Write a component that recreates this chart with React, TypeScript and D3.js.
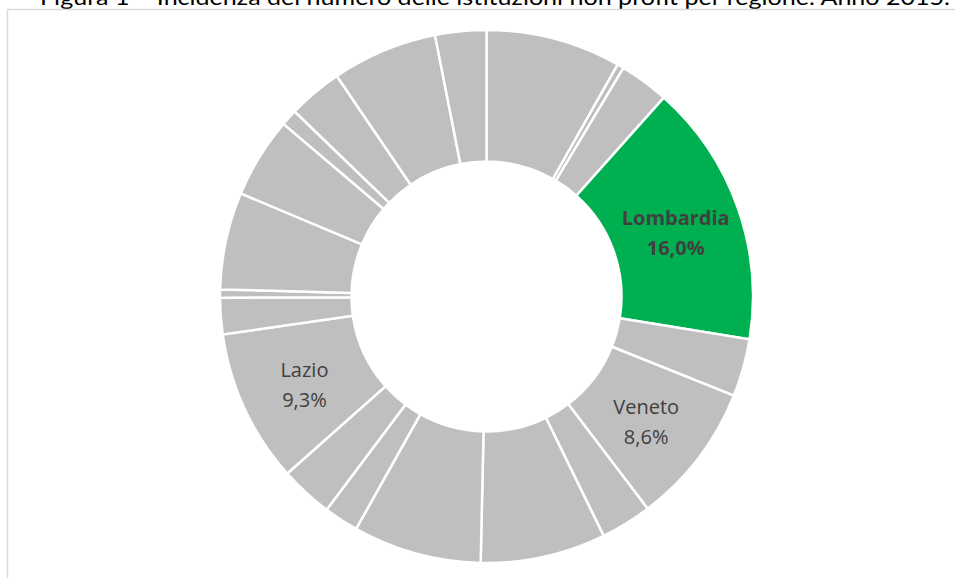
import React from "react";
import * as d3 from "d3";

const regions = [
  "Piemonte", "Valle d'Aosta", "Liguria", "Lombardia", "Trentino-Alto Adige",
  "Veneto", "Friuli-Venezia Giulia", "Emilia-Romagna", "Toscana", "Umbria",
  "Marche", "Lazio", "Abruzzo", "Molise", "Campania", "Puglia", "Basilicata",
  "Calabria", "Sicilia", "Sardegna",
];
const shares = [
  8.2, 0.4, 3.0, 16.0, 3.5, 8.6, 3.1, 7.6, 7.8, 2.1,
  3.2, 9.3, 2.2, 0.5, 5.9, 4.9, 1.0, 3.3, 6.4, 3.1,
];
const labelled = ["Lombardia", "Veneto", "Lazio"];
const highlighted = "Lombardia";
const titleText = "Figura 1 \u2013 Incidenza del numero delle istituzioni non profit per regione. Anno 2015.";

const W = 955;
const H = 578;

export default function App() {
  const cx = 486.5;
  const cy = 296.5;
  const outerR = 266.5;
  const innerR = 135;

  const data = regions.map((r, i) => ({ region: r, value: shares[i] }));
  const pie = d3.pie<{ region: string; value: number }>().value((d) => d.value).sort(null);
  const arcs = pie(data);
  const arc = d3.arc<d3.PieArcDatum<{ region: string; value: number }>>()
    .innerRadius(innerR)
    .outerRadius(outerR);
  const fmt = (v: number) => v.toFixed(1).replace(".", ",") + "%";

  return (
    <svg
      width={W}
      height={H}
      style={{ position: "absolute", left: 0, top: 0, background: "#ffffff" }}
    >
      <text
        x={40}
        y={5}
        fontFamily="Lato, 'Open Sans', sans-serif"
        fontSize={21}
        fill="#000"
        textLength={910}
        lengthAdjust="spacingAndGlyphs"
      >
        {titleText}
      </text>
      <rect x={7.5} y={9.5} width={1000} height={700} fill="none" stroke="#d9d9d9" strokeWidth={1.5} />
      <g transform={`translate(${cx},${cy})`}>
        {arcs.map((a) => (
          <path
            key={a.data.region}
            d={arc(a) || ""}
            fill={a.data.region === highlighted ? "#00b050" : "#bfbfbf"}
            stroke="#ffffff"
            strokeWidth={2.5}
            strokeLinejoin="miter"
          />
        ))}
        {arcs
          .filter((a) => labelled.includes(a.data.region))
          .map((a) => {
            const [lx, ly] = arc.centroid(a);
            const bold = a.data.region === highlighted;
            return (
              <text
                key={"l" + a.data.region}
                x={lx}
                y={ly}
                textAnchor="middle"
                fontFamily="'Open Sans', sans-serif"
                fontSize={20}
                fontWeight={bold ? 700 : 400}
                fill="#404040"
              >
                <tspan x={lx} dy={-4}>{a.data.region}</tspan>
                <tspan x={lx} dy={29.5}>{fmt(a.data.value)}</tspan>
              </text>
            );
          })}
      </g>
    </svg>
  );
}
